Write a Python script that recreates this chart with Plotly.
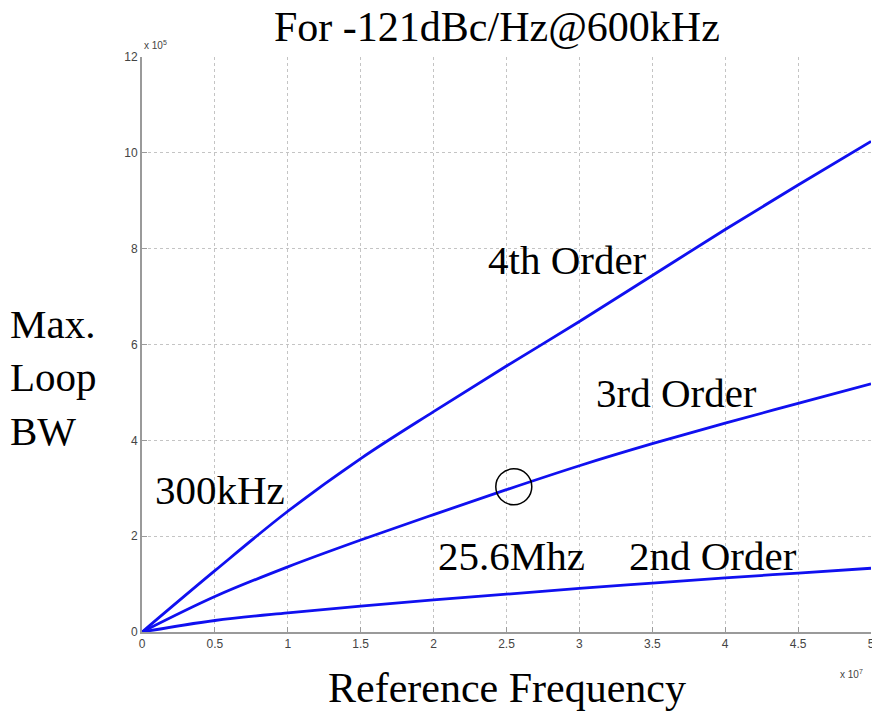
import plotly.graph_objects as go

# Reference frequency (x 10^7 Hz)
ref_freq = [0, 0.5, 1.0, 1.5, 2.0, 2.5, 3.0, 3.5, 4.0, 4.5, 5.0]
# Max loop bandwidth (x 10^5 Hz)
bw_4th = [0, 1.28, 2.52, 3.62, 4.60, 5.55, 6.48, 7.44, 8.40, 9.33, 10.24]
bw_3rd = [0, 0.74, 1.36, 1.92, 2.45, 2.97, 3.47, 3.93, 4.36, 4.77, 5.18]
bw_2nd = [0, 0.24, 0.40, 0.54, 0.67, 0.79, 0.91, 1.02, 1.13, 1.23, 1.33]

x_ticks = [0, 0.5, 1, 1.5, 2, 2.5, 3, 3.5, 4, 4.5, 5]
x_ticktext = ["0", "0.5", "1", "1.5", "2", "2.5", "3", "3.5", "4", "4.5", "5"]
y_ticks = [0, 2, 4, 6, 8, 10, 12]

marked_x = 2.55
marked_y = 3.03

fig = go.Figure()
for ys in (bw_4th, bw_3rd, bw_2nd):
    fig.add_trace(go.Scatter(x=ref_freq, y=ys, mode="lines",
                             line=dict(color="#1010f0", width=2.8, shape="spline"),
                             showlegend=False, hoverinfo="skip"))

serif = "Liberation Serif, Times New Roman, serif"
sans = "Liberation Sans, Arial, sans-serif"
big = 41

L, R, T, B = 142, 871, 57, 632
fig.update_layout(
    width=872, height=713,
    margin=dict(l=L, r=872 - R, t=T, b=713 - B, autoexpand=False),
    paper_bgcolor="white", plot_bgcolor="white",
    showlegend=False,
    xaxis=dict(range=[0, 5], tickvals=x_ticks, ticktext=x_ticktext, automargin=False,
               showgrid=True, gridcolor="#c4c4c4", griddash="dot", gridwidth=1,
               zeroline=False, showline=True, linecolor="#9a9a9a", linewidth=2,
               ticks="inside", ticklen=5, tickcolor="#9a9a9a",
               ticklabeloverflow="allow",
               tickfont=dict(family=sans, size=12, color="#444")),
    yaxis=dict(range=[0, 12], tickvals=y_ticks, automargin=False,
               showgrid=True, gridcolor="#c4c4c4", griddash="dot", gridwidth=1,
               zeroline=False, showline=True, linecolor="#9a9a9a", linewidth=2,
               ticks="inside", ticklen=5, tickcolor="#9a9a9a",
               ticklabeloverflow="allow",
               tickfont=dict(family=sans, size=12, color="#444")),
)

def pp(xp, yp):
    return (xp - L) / (R - L), (B - yp) / (B - T)

def txt(xp, yp, s, size=big, xanchor="center", family=serif, color="black", align="center"):
    x, y = pp(xp, yp)
    fig.add_annotation(x=x, y=y, xref="paper", yref="paper", text=s, showarrow=False,
                       xanchor=xanchor, yanchor="middle", align=align,
                       font=dict(family=family, size=size, color=color))

# Title and axis labels
txt(497, 27, "For -121dBc/Hz@600kHz", size=42)
txt(507, 688, "Reference Frequency", size=42)
txt(8, 377, "Max.<br>Loop<br>BW", xanchor="left", align="left")

# Exponent labels
txt(142, 45, "x 10<sup>5</sup>", size=10, xanchor="left", family=sans, color="#444")
txt(838, 674, "x 10<sup>7</sup>", size=10, xanchor="left", family=sans, color="#444")

# In-plot labels (data coordinates)
def dtxt(xp, yp, s):
    fig.add_annotation(x=(xp - L) / (R - L) * 5, y=(B - yp) / (B - T) * 12, xref="x", yref="y",
                       text=s, showarrow=False, font=dict(family=serif, size=big, color="black"))

dtxt(567, 260, "4th Order")
dtxt(676, 393, "3rd Order")
dtxt(220, 490, "300kHz")
dtxt(511, 556, "25.6Mhz")
dtxt(713, 556, "2nd Order")

rx = 18 / (R - L) * 5
ry = 18 / (B - T) * 12
fig.add_shape(type="circle", xref="x", yref="y",
              x0=marked_x - rx, x1=marked_x + rx, y0=marked_y - ry, y1=marked_y + ry,
              line=dict(color="black", width=1.5))

fig.write_html("out.html")
